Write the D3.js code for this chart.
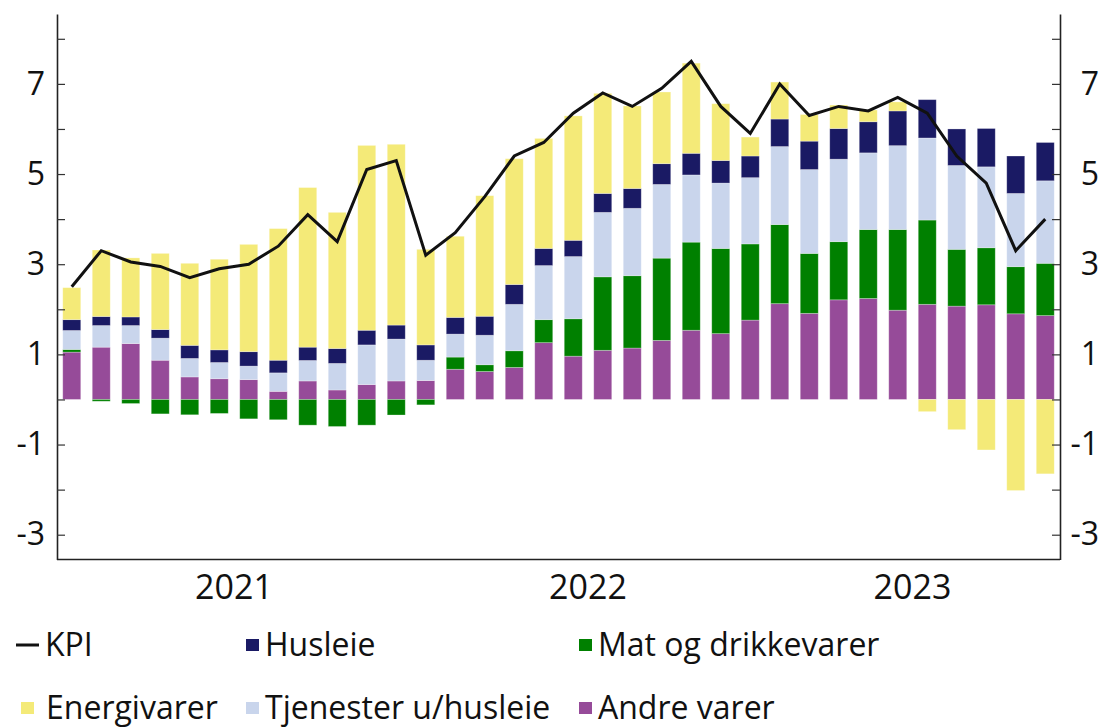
<!DOCTYPE html>
<html>
<head>
<meta charset="utf-8">
<script src="https://cdn.jsdelivr.net/npm/d3@7"></script>
<style>
  html, body { margin: 0; padding: 0; background: #fff; }
  svg { display: block; font-family: "Open Sans", "Noto Sans", sans-serif; }
</style>
</head>
<body>
<svg id="chart" width="1104" height="727"></svg>
<script>
// ---- Data ----
const months = ["2021-01","2021-02","2021-03","2021-04","2021-05","2021-06","2021-07","2021-08","2021-09","2021-10","2021-11","2021-12",
  "2022-01","2022-02","2022-03","2022-04","2022-05","2022-06","2022-07","2022-08","2022-09","2022-10","2022-11","2022-12",
  "2023-01","2023-02","2023-03","2023-04","2023-05","2023-06","2023-07","2023-08","2023-09","2023-10"];
const kpi = [2.5,3.3,3.05,2.95,2.7,2.9,3.0,3.4,4.1,3.5,5.1,5.3,
  3.2,3.7,4.5,5.4,5.7,6.35,6.8,6.5,6.9,7.5,6.5,5.9,
  7.0,6.3,6.5,6.4,6.7,6.35,5.4,4.8,3.3,4.0];
const andreVarer = [1.05,1.16,1.24,0.87,0.5,0.46,0.44,0.18,0.41,0.21,0.33,0.41,
  0.42,0.67,0.62,0.71,1.26,0.96,1.09,1.14,1.31,1.535,1.46,1.76,
  2.125,1.91,2.21,2.24,1.98,2.11,2.07,2.1,1.9,1.86];
const mat = [0.06,-0.04,-0.09,-0.32,-0.34,-0.31,-0.43,-0.45,-0.57,-0.6,-0.57,-0.345,
  -0.12,0.27,0.15,0.37,0.51,0.83,1.63,1.605,1.825,1.955,1.89,1.69,
  1.755,1.33,1.29,1.53,1.79,1.87,1.26,1.265,1.045,1.16];
const tjenester = [0.42,0.48,0.4,0.49,0.41,0.36,0.3,0.41,0.455,0.59,0.88,0.93,
  0.45,0.51,0.655,1.03,1.2,1.38,1.43,1.495,1.635,1.49,1.45,1.47,
  1.73,1.86,1.83,1.7,1.86,1.82,1.86,1.795,1.625,1.83];
const husleie = [0.24,0.2,0.19,0.19,0.29,0.28,0.32,0.28,0.295,0.33,0.325,0.31,
  0.34,0.37,0.42,0.44,0.38,0.36,0.42,0.44,0.46,0.48,0.5,0.48,
  0.61,0.63,0.68,0.69,0.77,0.85,0.81,0.85,0.83,0.85];
const energi = [0.71,1.475,1.31,1.69,1.82,2.01,2.38,2.92,3.54,3.02,4.1,4.01,
  2.12,1.8,2.675,2.79,2.44,2.76,2.22,1.83,1.59,2.0,1.26,0.42,
  0.82,0.59,0.52,0.26,0.2,-0.27,-0.67,-1.12,-2.02,-1.65];
const yearLabels = ["2021","2022","2023"];
const yTicks = [-3,-2,-1,0,1,2,3,4,5,6,7,8];
const yTickLabels = ["-3","","-1","","1","","3","","5","","7",""];

const seriesKeys = ["andre","mat","tjenester","husleie","energi"];
const seriesNames = {andre:"Andre varer", mat:"Mat og drikkevarer", tjenester:"Tjenester u/husleie", husleie:"Husleie", energi:"Energivarer"};
const colors = {andre:"#964B99", mat:"#008000", tjenester:"#C9D5EC", husleie:"#1A1A64", energi:"#F4EA78"};

const table = months.map((m,i)=>({month:m, andre:andreVarer[i], mat:mat[i], tjenester:tjenester[i], husleie:husleie[i], energi:energi[i], kpi:kpi[i]}));

// ---- Layout ----
const svg = d3.select("#chart");
const L = 57, R = 1060, T = 14, B = 559.5;
const x = d3.scaleBand().domain(months).range([L, R]).paddingInner(0.39).paddingOuter(0.195);
const y = d3.scaleLinear().domain([-3.55, 8.55]).range([B, T]);

// bars
const stack = d3.stack().keys(seriesKeys).offset(d3.stackOffsetDiverging);
const stacked = stack(table);
svg.append("g").selectAll("g").data(stacked).join("g")
  .attr("fill", d => colors[d.key])
  .selectAll("rect").data(d => d).join("rect")
  .attr("x", d => x(d.data.month))
  .attr("width", x.bandwidth())
  .attr("y", d => y(Math.max(d[0], d[1])))
  .attr("height", d => Math.abs(y(d[0]) - y(d[1])))
  .attr("stroke", "#ffffff").attr("stroke-opacity", 0.35).attr("stroke-width", 0.8);

// KPI line
const line = d3.line().x(d => x(d.month) + x.bandwidth()/2).y(d => y(d.kpi));
svg.append("path").datum(table).attr("d", line)
  .attr("fill", "none").attr("stroke", "#111").attr("stroke-width", 3).attr("stroke-linejoin", "miter");

// axes
const fmt = (d,i) => yTickLabels[yTicks.indexOf(d)];
const leftAxis = d3.axisLeft(y).tickValues(yTicks).tickFormat(fmt).tickSizeInner(-8).tickSizeOuter(0).tickPadding(12);
const gl = svg.append("g").attr("transform", `translate(${L},0)`).call(leftAxis);
const rightAxis = d3.axisRight(y).tickValues(yTicks).tickFormat(fmt).tickSizeInner(-8).tickSizeOuter(0).tickPadding(39);
const gr = svg.append("g").attr("transform", `translate(${R},0)`).call(rightAxis);
gr.selectAll("text").attr("text-anchor", "end");
[gl, gr].forEach(g => {
  g.select(".domain").attr("stroke", "#222").attr("stroke-width", 1.6);
  g.selectAll(".tick line").attr("stroke", "#333").attr("stroke-width", 1.2);
  g.selectAll("text").attr("font-size", 32).attr("fill", "#111").attr("font-family", "Open Sans");
});
// bottom line
svg.append("line").attr("x1", L).attr("x2", R).attr("y1", B).attr("y2", B)
  .attr("stroke", "#222").attr("stroke-width", 1.6);

// year labels (centered on the months shown in each year)
yearLabels.forEach(yr => {
  const ms = months.filter(m => m.startsWith(yr));
  const cx = (x(ms[0]) + x(ms[ms.length-1]) + x.bandwidth()) / 2;
  svg.append("text").attr("x", cx).attr("y", 599).attr("text-anchor", "middle")
    .attr("font-size", 34).attr("fill", "#111").text(yr);
});

// legend
const legendItems = [
  {name:"KPI", type:"line", color:"#111", sx:16, tx:45, ty:656},
  {name:seriesNames.husleie, type:"rect", color:colors.husleie, sx:246, tx:265, ty:656},
  {name:seriesNames.mat, type:"rect", color:colors.mat, sx:579, tx:598, ty:656},
  {name:seriesNames.energi, type:"rect", color:colors.energi, sx:21, tx:46, ty:719},
  {name:seriesNames.tjenester, type:"rect", color:colors.tjenester, sx:246, tx:265, ty:719},
  {name:seriesNames.andre, type:"rect", color:colors.andre, sx:579, tx:598, ty:719}
];
const lg = svg.append("g");
legendItems.forEach(it => {
  if (it.type === "line") {
    lg.append("line").attr("x1", it.sx).attr("x2", it.sx + 23).attr("y1", it.ty - 11).attr("y2", it.ty - 11)
      .attr("stroke", it.color).attr("stroke-width", 3);
  } else {
    lg.append("rect").attr("x", it.sx).attr("y", it.ty - 17).attr("width", 13).attr("height", 12).attr("fill", it.color);
  }
  lg.append("text").attr("x", it.tx).attr("y", it.ty).attr("font-size", 32).attr("fill", "#111").text(it.name);
});
</script>
</body>
</html>
